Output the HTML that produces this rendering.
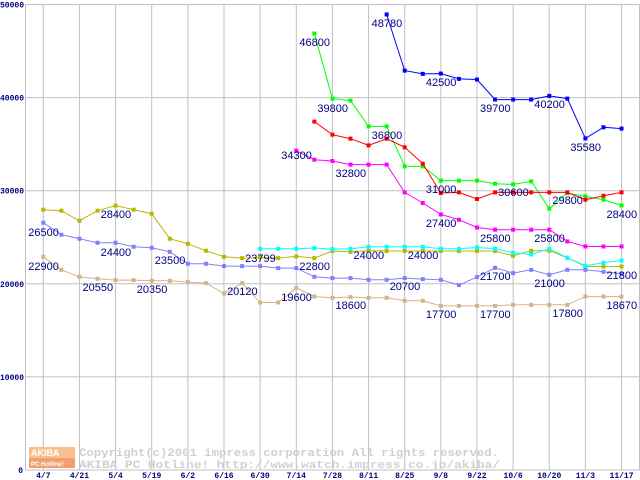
<!DOCTYPE html>
<html><head><meta charset="utf-8"><style>
html,body{margin:0;padding:0;background:#fff;}
svg{display:block;}
.lbl{font-family:"Liberation Sans",sans-serif;font-size:11px;fill:#000080;}
.ax{font-family:"Liberation Mono",monospace;font-size:8px;font-weight:bold;fill:#000080;}
</style></head><body>
<svg id="chart" width="640" height="480" viewBox="0 0 640 480" xmlns="http://www.w3.org/2000/svg">
<g id="grid"></g>
<g id="wm">
<rect x="29" y="447" width="46" height="11" fill="#f8c090"/>
<rect x="29" y="458" width="46" height="10" fill="#f0a070"/>
<text x="31" y="456" font-family="Liberation Sans,sans-serif" font-size="9" font-weight="bold" fill="#fff">AKIBA</text>
<text x="31" y="466" font-family="Liberation Sans,sans-serif" font-size="6" font-weight="bold" fill="#fff">PC Hotline!</text>
<text x="79" y="456" font-family="Liberation Mono,monospace" font-size="11" font-weight="bold" fill="#d0d0d0" textLength="420" lengthAdjust="spacingAndGlyphs">Copyright(c)2001 impress corporation All rights reserved.</text>
<text x="79" y="468" font-family="Liberation Mono,monospace" font-size="11" font-weight="bold" fill="#d0d0d0" textLength="421" lengthAdjust="spacingAndGlyphs">AKIBA PC Hotline!  http://www.watch.impress.co.jp/akiba/</text>
</g>
<g id="series"></g>
<g id="labels"></g>
</svg>
<script>
const xLabels=["4/7","4/21","5/4","5/19","6/2","6/16","6/30","7/14","7/28","8/11","8/25","9/8","9/22","10/6","10/20","11/3","11/17"];
const yTicks=[0,10000,20000,30000,40000,50000];
const N=null;
const olive=[27960,27850,26770,27850,28400,27960,27530,24840,24300,23550,22900,22760,22830,22760,22940,22760,23520,23440,23550,23520,23520,23520,23520,23520,23520,23520,23010,23550,23550,22800,21860,21860,21860];
const peri=[26560,25270,24840,24410,24410,23980,23870,23440,22150,22150,21900,21900,21900,21690,21690,20750,20610,20610,20430,20430,20610,20500,20430,19860,20720,21720,21150,21500,20970,21500,21500,21290,21080];
const tan=[22900,21500,20750,20540,20400,20400,20320,20320,20180,20080,18960,20080,17990,17990,19570,18630,18500,18570,18500,18500,18170,18170,17630,17630,17630,17630,17740,17740,17740,17740,18630,18630,18630];
const cyan=[N,N,N,N,N,N,N,N,N,N,N,N,23760,23760,23760,23840,23730,23760,23980,23980,23980,23980,23760,23760,23900,23760,23330,23150,23760,22800,21940,22260,22500];
const magenta=[N,N,N,N,N,N,N,N,N,N,N,N,N,N,34300,33330,33190,32800,32800,32800,29820,28680,27450,26880,26050,25810,25810,25810,25810,24550,24010,24010,24010];
const green=[N,N,N,N,N,N,N,N,N,N,N,N,N,N,N,46880,39890,39680,36910,36910,32610,32610,31080,31080,31080,30750,30680,31000,28070,29750,29390,29030,28420];
const red=[N,N,N,N,N,N,N,N,N,N,N,N,N,N,N,37420,36020,35590,34870,35590,34660,32900,29750,29820,29110,29820,29820,29820,29820,29820,29030,29460,29820];
const blue=[N,N,N,N,N,N,N,N,N,N,N,N,N,N,N,N,N,N,N,48930,42900,42550,42580,42010,41940,39790,39790,39790,40180,39890,35620,36810,36670];
const labelText=["26500","28400","22900","24400","23500","20550","20350","20120","23799","19600","22800","34300","46800","48780","39800","42500","39700","40200","35580","36800","32800","31000","30600","29800","28400","27400","25800","25800","24000","24000","20700","21700","21000","21800","18600","17700","17700","17800","18670"];
const labelWeek=[0,4,0,4,7,3,6,11,12,14,15,14,15,19,16,22,25,28,30,19,17,22,26,29,32,22,25,28,18,21,20,25,28,32,17,22,25,29,32];
const labelVal=[25130,27070,21480,22990,22130,19230,19010,18800,22340,18150,21480,33400,45540,47580,38450,41250,38450,38880,34260,35550,31470,29750,29430,28570,27070,26100,24490,24490,22660,22660,19330,20410,19660,20520,17290,16330,16330,16430,17290];
const NS="http://www.w3.org/2000/svg";
const X=i=>43.3+18.07*i, Y=v=>470-v*0.00931;
function mk(t,a,p){const e=document.createElementNS(NS,t);for(const k in a)e.setAttribute(k,a[k]);p.appendChild(e);return e;}
const grid=document.getElementById('grid');
mk('rect',{x:25.5,y:4.5,width:614,height:465.5,fill:'none',stroke:'#c0c0c0'},grid);
yTicks.forEach(v=>{
  const l=mk('line',{x1:25.5,x2:640,y1:Y(v),y2:Y(v),stroke:'#c0c0c0'},grid);
  
  
  const t=mk('text',{x:v===0?23:24,y:Y(v)+3,'text-anchor':'end',class:'ax'},grid);
  t.textContent=v;
  
  
});
xLabels.forEach((s,k)=>{
  const x=X(k*2);
  const l=mk('line',{x1:x,x2:x,y1:4.5,y2:470,stroke:'#c0c0c0'},grid);
  
  
  const t=mk('text',{x:x,y:478,'text-anchor':'middle',class:'ax'},grid);
  t.textContent=s;
  
  
});
const sg=document.getElementById('series');
[[olive,'#b8b800','olive'],[peri,'#8080ff','periwinkle'],[tan,'#d2b48c','tan'],[cyan,'#00ffff','cyan'],[magenta,'#ff00ff','magenta'],[green,'#00ff00','green'],[red,'#ff0000','red'],[blue,'#0000ff','blue']].forEach(([d,c,n])=>{
  const g=mk('g',{},sg);
  
  
  const pts=[];d.forEach((v,i)=>{if(v!==null)pts.push(X(i).toFixed(1)+','+Y(v).toFixed(1));});
  const pl=mk('polyline',{points:pts.join(' '),fill:'none',stroke:c,'stroke-width':1},g);
  
  
  d.forEach((v,i)=>{if(v===null)return;
    const r=mk('rect',{x:X(i)-2,y:Y(v)-2,width:4,height:4,fill:c},g);
    
    
  });
});
const lg=document.getElementById('labels');
labelText.forEach((s,k)=>{
  const t=mk('text',{x:X(labelWeek[k])-15,y:Y(labelVal[k]),class:'lbl'},lg);
  t.textContent=s;
  
  
});
</script>
</body></html>
